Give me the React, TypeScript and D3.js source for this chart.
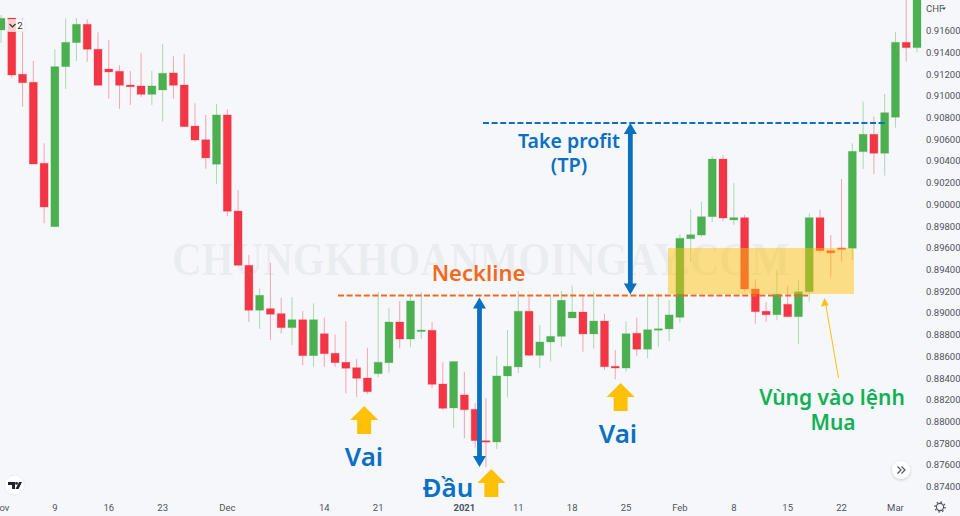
import * as d3 from 'd3';

// prices are stored in 1/100000 CHF
const opens = [
	91607, 91717, 91199, 91125, 90379, 89795, 91269, 91490, 91659, 91429,
	91247, 91226, 91100, 91091, 91014, 91054, 91211, 91100, 90722, 90596,
	90370, 90824, 89939, 89439, 89025, 89040, 88994, 88865, 88938, 88607,
	88809, 88629, 88546, 88496, 88401, 88441, 88542, 88917, 88760, 88834,
	88841, 88346, 88125, 88245, 88113, 87824, 87812, 88420, 88503, 89016,
	88610, 88733, 88785, 88954, 89009, 88807, 88926, 88509, 88493, 88813,
	88666, 88843, 88853, 88960, 89684, 89718, 89887, 90418, 89857, 89878,
	89221, 89016, 88984, 89080, 88966, 89196, 89878, 89574, 89599, 89596,
	90486, 90646, 90471, 90803, 91493, 91444
];
const closes = [
	91714, 91192, 91121, 90372, 89976, 91269, 91493, 91659, 91429, 91097,
	91220, 91097, 91084, 91014, 91091, 91208, 91097, 90716, 90593, 90428,
	90824, 89937, 89439, 89025, 89163, 88988, 88865, 88938, 88607, 88938,
	88625, 88542, 88491, 88398, 88275, 88546, 88917, 88760, 89111, 88843,
	88343, 88122, 88553, 88109, 87824, 87812, 88420, 88509, 89016, 88610,
	88733, 88785, 89117, 89009, 88807, 88926, 88505, 88493, 88809, 88666,
	88846, 88855, 88982, 89688, 89721, 89887, 90418, 89875, 89878, 89221,
	89012, 88984, 89172, 88966, 89196, 89878, 89574, 89553, 89589, 90489,
	90646, 90471, 90845, 91493, 91444, 92067
];
const highs = [
	91745, 91717, 91717, 91321, 90563, 91429, 91714, 91717, 91705, 91585,
	91515, 91282, 91229, 91398, 91229, 91478, 91364, 91386, 90931, 90824,
	90925, 90876, 90133, 89534, 89227, 89463, 89141, 89145, 89018, 89089,
	88957, 88804, 88924, 88576, 88680, 89193, 89049, 89111, 89175, 89191,
	88917, 88546, 88553, 88457, 88168, 88214, 88604, 88843, 89203, 89166,
	88889, 89166, 89203, 89255, 89166, 89196, 88991, 88659, 88924, 88957,
	89169, 89181, 89120, 89728, 89955, 90025, 90446, 90455, 90195, 89903,
	89310, 89101, 89396, 89249, 89304, 89918, 89951, 89718, 90234, 90563,
	90946, 90808, 91017, 91588, 92067, 92100
];
const lows = [
	91487, 91165, 90900, 90372, 89826, 89795, 91063, 91321, 91315, 91097,
	90974, 90879, 90916, 90990, 90916, 90762, 90974, 90716, 90578, 90329,
	90188, 89893, 89439, 88917, 88855, 88751, 88813, 88705, 88518, 88505,
	88503, 88503, 88260, 88226, 88254, 88408, 88450, 88675, 88684, 88760,
	88309, 88106, 87941, 87846, 87759, 87579, 87747, 88223, 88447, 88610,
	88496, 88555, 88690, 88954, 88643, 88671, 88475, 88389, 88459, 88604,
	88583, 88690, 88742, 88911, 89472, 89700, 89838, 89847, 89811, 89196,
	88901, 88920, 88933, 88966, 88714, 89104, 89555, 89334, 89472, 89488,
	90326, 90280, 90265, 90707, 91315, 91401
];
const priceTicks = [
	91600, 91400, 91200, 91000, 90800, 90600, 90400, 90200, 90000, 89800, 89600, 89400,
	89200, 89000, 88800, 88600, 88400, 88200, 88000, 87800, 87600, 87400
];
const dateTicks = [0, 5, 10, 15, 21, 30, 35, 43, 48, 53, 58, 63, 68, 73, 78, 83];
const dateLabels = ['Nov', '9', '16', '23', 'Dec', '14', '21', '2021', '11', '18', '25', 'Feb', '8', '15', '22', 'Mar'];

// levels of the annotations, in the same price units
const necklinePrice = 89161;
const takeProfitPrice = 90750;
const headLow = 87581;
const zoneTop = 89599;
const zoneBottom = 89175;

const x = d3.scaleLinear().domain([0, 85]).range([1, 917]);
const y = d3.scaleLinear().domain([87400, 91600]).range([486.7, 30.7]);

const UP = '#4caf50', DOWN = '#f23645', BLUE = '#0b70c2', ORANGE = '#f26a21', GOLD = '#ffc107';
const TEXT_FONT = '"Noto Sans", sans-serif';

// vertical shaft with a head on both ends
function doubleArrow(cx: number, top: number, bottom: number){
	const path = d3.path();
	path.moveTo(cx, top);
	path.lineTo(cx + 6.5, top + 11);
	path.lineTo(cx + 2.4, top + 11);
	path.lineTo(cx + 2.4, bottom - 11);
	path.lineTo(cx + 6.5, bottom - 11);
	path.lineTo(cx, bottom);
	path.lineTo(cx - 6.5, bottom - 11);
	path.lineTo(cx - 2.4, bottom - 11);
	path.lineTo(cx - 2.4, top + 11);
	path.lineTo(cx - 6.5, top + 11);
	path.closePath();
	return path.toString();
}

function upArrow(cx: number, tip: number, bottom: number){
	const path = d3.path();
	path.moveTo(cx, tip);
	path.lineTo(cx + 14, tip + 14);
	path.lineTo(cx + 7, tip + 14);
	path.lineTo(cx + 7, bottom);
	path.lineTo(cx - 7, bottom);
	path.lineTo(cx - 7, tip + 14);
	path.lineTo(cx - 14, tip + 14);
	path.closePath();
	return path.toString();
}

function Label({cx, base, size, color, children}: any){
	return (<text x={cx} y={base} textAnchor="middle" fontFamily={TEXT_FONT} fontWeight={600}
	              fontSize={size} fill={color}>{children}</text>);
}

export default function App(){
	return (<svg width={960} height={516} viewBox="0 0 960 516"
	             style={{position: 'absolute', left: 0, top: 0, display: 'block'}}>
		<defs>
			<filter id="btnShadow" x="-50%" y="-50%" width="200%" height="200%">
				<feDropShadow dx="0" dy="1" stdDeviation="1.5" floodColor="#000" floodOpacity="0.22"/>
			</filter>
		</defs>
		<rect width={960} height={516} fill="#f5f7fa"/>

		{/* candles */}
		<g>
			{opens.map((open, i)=>{
				const close = closes[i]
					, color = close >= open ? UP : DOWN
					, top = y( Math.max(open, close) )
					, h = Math.max(1.5, Math.abs(y(open) - y(close)) )
					;

				return (<g key={i}>
					<line x1={x(i)} x2={x(i)} y1={y(highs[i])} y2={y(lows[i])} stroke={color} strokeOpacity={0.42}/>
					<rect x={x(i) - 4} y={top} width={8} height={h} fill={color} stroke={color} strokeOpacity={0.25} strokeWidth={1}/>
				</g>);
			})}
		</g>

		{/* watermark */}
		<text x={481} y={275} textAnchor="middle" fontFamily='"Liberation Serif", serif' fontWeight={700}
		      fontSize={47} textLength={618} lengthAdjust="spacingAndGlyphs" fill="#8a8d93" fillOpacity={0.1}>CHUNGKHOANMOINGAY.COM</text>

		{/* buy zone */}
		<rect x={668} y={y(zoneTop)} width={186} height={y(zoneBottom) - y(zoneTop)} fill={GOLD} fillOpacity={0.48}/>

		{/* levels */}
		<line x1={338} x2={808} y1={y(necklinePrice)} y2={y(necklinePrice)} stroke={ORANGE} strokeWidth={2.2} strokeDasharray="6 2.6"/>
		<line x1={483} x2={886} y1={y(takeProfitPrice)} y2={y(takeProfitPrice)} stroke={BLUE} strokeWidth={2.2} strokeDasharray="6 2.6"/>

		<path d={doubleArrow(x(44.4), y(necklinePrice) + 2, y(headLow))} fill={BLUE}/>
		<path d={doubleArrow(x(58.4), y(takeProfitPrice), y(necklinePrice) - 1)} fill={BLUE}/>

		<path d={upArrow(x(33.7), 406, 434)} fill={GOLD}/>
		<path d={upArrow(x(45.5), 469, 497)} fill={GOLD}/>
		<path d={upArrow(x(57.5), 383, 411)} fill={GOLD}/>

		{/* pointer to the buy zone */}
		<line x1={838.5} y1={378} x2={825.5} y2={303} stroke={GOLD} strokeWidth={1}/>
		<path d="M824.5,298 L828.5,305 L821,306.5 Z" fill={GOLD}/>

		<Label cx={364} base={466} size={26} color={BLUE}>Vai</Label>
		<Label cx={448} base={497} size={26} color={BLUE}>Đầu</Label>
		<Label cx={618} base={443} size={26} color={BLUE}>Vai</Label>
		<Label cx={569} base={148} size={19.5} color={BLUE}>Take profit</Label>
		<Label cx={569} base={172} size={20} color={BLUE}>(TP)</Label>
		<Label cx={478.5} base={281} size={22} color={ORANGE}>Neckline</Label>
		<Label cx={832} base={405} size={21} color="#12b157">Vùng vào lệnh</Label>
		<Label cx={833} base={430} size={21} color="#12b157">Mua</Label>

		{/* price axis */}
		<g fontFamily="Roboto, sans-serif" fontSize={9.5} fill="#50535e">
			<text x={926} y={11.5}>CHF</text>
			<path d="M942,7.5 L946,7.5 L944,10 Z" fill="#50535e"/>
			{priceTicks.map((t)=>{
				return (<text key={t} x={926} y={y(t) + 3.5}>{(t / 100000).toFixed(5)}</text>);
			})}
		</g>

		{/* time axis */}
		<g fontFamily="Roboto, sans-serif" fontSize={9.5} fill="#50535e" textAnchor="middle">
			{dateTicks.map((t, i)=>{
				const bold = dateLabels[i] === '2021';

				return (<text key={t} x={x(t)} y={511} fontWeight={bold ? 700 : 400}>{dateLabels[i]}</text>);
			})}
		</g>

		{/* legend toggle */}
		<rect x={6.5} y={19.5} width={18.5} height={12} rx={2} fill="#fff" fillOpacity={0.75} stroke="#e6e8ec" strokeOpacity={0.7}/>
		<path d="M9.5,24 L12.5,27 L15.5,24" fill="none" stroke="#333" strokeWidth={1.2}/>
		<text x={20} y={29} textAnchor="middle" fontFamily="Roboto, sans-serif" fontSize={9.5} fill="#333">2</text>

		{/* scroll button */}
		<circle cx={901} cy={470} r={9} fill="#fff" filter="url(#btnShadow)"/>
		<path d="M897.5,466.5 L901,470 L897.5,473.5 M901.5,466.5 L905,470 L901.5,473.5" fill="none" stroke="#50535e" strokeWidth={1.2}/>

		{/* logo */}
		<circle cx={14.5} cy={485} r={10} fill="#fff" stroke="#eceef1"/>
		<path d="M8,482 H15 V489 H12 V485 H8 Z M19,482 H22 L18.5,489 H15.5 Z" fill="#1e222d"/>
		<circle cx={16.5} cy={483.4} r={1.4} fill="#1e222d"/>

		{/* settings */}
		<circle cx={940} cy={507} r={3.6} fill="none" stroke="#50535e" strokeWidth={1.1}/>
		<circle cx={940} cy={507} r={5} fill="none" stroke="#50535e" strokeWidth={1.4} strokeDasharray="1.6 2.3"/>
	</svg>);
}
